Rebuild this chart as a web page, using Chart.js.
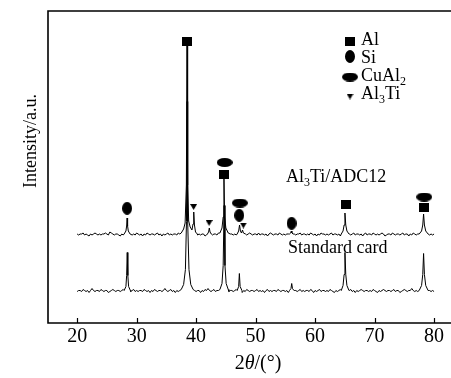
<!DOCTYPE html>
<html>
<head>
<meta charset="utf-8">
<script src="https://cdn.jsdelivr.net/npm/chart.js@4/dist/chart.umd.min.js"></script>
<style>
  html, body { margin: 0; padding: 0; background: #fff; }
  canvas { display: block; }
</style>
</head>
<body>
<canvas id="xrdChart" width="451" height="378"></canvas>
<script>
// x axis ticks (2-theta, degrees)
const angleTicks = [20, 30, 40, 50, 60, 70, 80];

// background readings, one every 0.25 deg from 20 to 80
const scanStart = 20;
const scanStep = 0.25;
const sampleNoise = [
  1, 0, 1, 1, 2, 0, 1, 0, -1, 1,
  0, 1, 2, 1, 0, 1, 0, 1, 1, 2,
  1, 0, 3, 2, 1, 0, 1, 1, 0, -1,
  1, 0, 1, 2, 0, 1, 1, 0, 1, 0,
  2, 1, 0, 1, -1, 1, 0, 2, 1, 0,
  1, 1, 0, 1, 2, 0, 1, -1, 1, 0,
  1, 2, 0, 1, 0, 1, 1, 0, 2, 1,
  0, 1, -1, 1, 0, 2, 1, 1, 0, 1,
  2, 0, 1, 0, 1, 1, -1, 0, 1, 2,
  1, 0, 1, 1, 0, 2, 1, 0, 1, -1,
  1, 0, 2, 1, 1, 0, 1, 0, 1, 2,
  0, 1, 1, -1, 0, 1, 2, 1, 0, 1,
  1, 0, 2, 0, 1, 1, 0, 1, -1, 1,
  2, 1, 0, 1, 1, 0, 2, 1, 0, 1,
  0, 1, 1, 2, 0, -1, 1, 0, 1, 1,
  2, 0, 1, 1, 0, 1, 0, 2, 1, 0,
  1, -1, 1, 0, 2, 1, 1, 0, 1, 0,
  1, 2, 0, 1, 1, 0, 1, -1, 0, 1,
  2, 1, 0, 1, 0, 1, 2, 0, 1, 1,
  0, 1, -1, 1, 2, 0, 1, 1, 0, 2,
  1, 0, 1, 0, 1, 2, 1, -1, 0, 1,
  1, 0, 2, 1, 0, 1, 1, 0, 1, 2,
  0, 1, 1, -1, 1, 0, 2, 1, 0, 1,
  1, 2, 0, 1, 0, 1, 1, 0, 1, 0,
  1
];
const cardNoise = [
  0, 1, 1, 0, 2, 1, 0, 1, -1, 1,
  3, 1, 0, 1, 1, 0, 2, 1, 0, 1,
  1, -1, 0, 1, 2, 1, 0, 1, 1, 0,
  1, 2, 0, 1, -1, 1, 0, 1, 2, 0,
  1, 0, 1, 1, 0, 2, 1, 0, 1, -1,
  1, 0, 2, 1, 0, 1, 1, 0, 1, 3,
  1, 0, 1, 2, 0, 1, -1, 1, 0, 1,
  2, 1, 0, 1, 1, 0, 1, 2, 0, 1,
  0, 1, 1, -1, 1, 0, 2, 1, 3, 1,
  0, 1, 2, 0, 1, 1, 0, -1, 1, 0,
  2, 1, 0, 1, 1, 0, 1, 2, 1, 0,
  1, -1, 1, 0, 2, 1, 0, 1, 1, 0,
  1, 2, 0, 1, 0, 1, -1, 1, 2, 0,
  1, 0, 1, 1, 0, 2, 1, 0, 1, 1,
  0, 1, -1, 1, 2, 0, 1, 1, 0, 1,
  2, 0, 1, 0, 1, 1, 0, 2, 1, -1,
  1, 0, 1, 2, 0, 1, 1, 0, 1, 0,
  2, 1, 0, -1, 1, 0, 1, 2, 1, 0,
  1, 1, 0, 1, 2, 0, 1, -1, 1, 0,
  1, 2, 1, 0, 1, 1, 0, 1, 0, 2,
  1, 0, -1, 1, 0, 1, 2, 1, 0, 1,
  1, 0, 1, 2, 0, 1, 1, -1, 0, 1,
  2, 1, 0, 1, 1, 3, 1, 0, 1, 0,
  1, 0, 2, 1, 0, 1, -1, 1, 0, 1,
  0
];

// diffraction peaks, [2theta, intensity above background]
const samplePeaks = [
  [[27.9, 1], [28.2, 4], [28.32, 9], [28.4, 17], [28.48, 9], [28.6, 4], [28.9, 1]],
  [[37.5, 2], [37.9, 6], [38.15, 12], [38.36, 50], [38.47, 190], [38.57, 50], [38.75, 14], [39.0, 8],
   [39.3, 5], [39.48, 11], [39.6, 23], [39.72, 10], [39.9, 3], [40.2, 1]],
  [[41.9, 1], [42.1, 3], [42.22, 7], [42.34, 3], [42.55, 1]],
  [[44.0, 2], [44.35, 7], [44.55, 18], [44.68, 57], [44.8, 18], [45.0, 7], [45.4, 2]],
  [[46.9, 1], [47.15, 4], [47.3, 10], [47.45, 4], [47.62, 2], [47.8, 5], [47.95, 2], [48.3, 1]],
  [[55.7, 1], [55.9, 2], [56.0, 4], [56.1, 2], [56.3, 1]],
  [[64.4, 1], [64.7, 4], [64.88, 10], [65.02, 22], [65.16, 10], [65.35, 4], [65.7, 1]],
  [[77.5, 1], [77.9, 4], [78.1, 10], [78.24, 21], [78.38, 10], [78.6, 4], [79.0, 1]]
];
const cardPeaks = [
  [[27.9, 1], [28.2, 5], [28.32, 16], [28.42, 39], [28.52, 16], [28.65, 5], [28.95, 1]],
  [[37.5, 2], [37.9, 7], [38.2, 22], [38.38, 70], [38.48, 190], [38.58, 70], [38.8, 22], [39.1, 7], [39.5, 2]],
  [[44.0, 2], [44.35, 8], [44.55, 26], [44.7, 86], [44.85, 26], [45.05, 8], [45.4, 2]],
  [[46.9, 1], [47.15, 5], [47.27, 18], [47.4, 5], [47.7, 1]],
  [[55.7, 1], [55.95, 3], [56.07, 8], [56.2, 3], [56.45, 1]],
  [[64.4, 1], [64.7, 6], [64.88, 17], [65.02, 39], [65.16, 17], [65.35, 6], [65.7, 1]],
  [[77.5, 1], [77.9, 6], [78.1, 17], [78.24, 38], [78.38, 17], [78.6, 6], [79.0, 1]]
];

// the two patterns are stacked
const sampleOffset = 88;
const cardOffset = 31.5;

// phase markers above the sample peaks
const phaseAngles = [28.4, 38.48, 39.58, 42.18, 44.72, 44.8, 47.25, 47.35, 47.94, 56.05, 65.2, 78.3, 78.35];
const phaseLevels = [114.7, 282, 116, 100, 149, 160.5, 107.7, 120, 97.5, 99.7, 118.3, 115.2, 126];
const phaseKinds = ['Si', 'Al', 'Al3Ti', 'Al3Ti', 'Al', 'CuAl2', 'Si', 'CuAl2', 'Al3Ti', 'Si', 'Al', 'Al', 'CuAl2'];

// legend and labels (plain text / subscript pieces)
const legendKinds = ['Al', 'Si', 'CuAl2', 'Al3Ti'];
const legendText = [['Al'], ['Si'], ['CuAl', '2'], ['Al', '3', 'Ti']];
const sampleLabel = ['Al', '3', 'Ti/ADC12'];
const cardLabel = ['Standard card'];

const serif = '"Liberation Serif", "Times New Roman", serif';

function buildTrace(noise, peaks, offset) {
  const pts = [];
  noise.forEach((v, i) => {
    const x = scanStart + i * scanStep;
    const inPeak = peaks.some(p => x >= p[0][0] && x <= p[p.length - 1][0]);
    if (!inPeak) pts.push({ x: x, y: v + offset });
  });
  peaks.forEach(p => p.forEach(([x, y]) => pts.push({ x: x, y: y + offset })));
  return pts.sort((a, b) => a.x - b.x);
}

function makeMark(w, h, draw) {
  const c = document.createElement('canvas');
  c.width = w;
  c.height = h;
  const g = c.getContext('2d');
  g.fillStyle = '#000';
  g.beginPath();
  draw(g, w, h);
  g.fill();
  return c;
}
const ellipse = (g, w, h) => g.ellipse(w / 2, h / 2, w / 2, h / 2, 0, 0, Math.PI * 2);
const marks = {
  Al: makeMark(10, 9, (g, w, h) => g.rect(0, 0, w, h)),
  Si: makeMark(10, 13, ellipse),
  CuAl2: makeMark(16, 9, ellipse),
  Al3Ti: makeMark(7, 6, (g, w, h) => { g.moveTo(0, 0); g.lineTo(w, 0); g.lineTo(w / 2, h); g.closePath(); })
};

function drawChem(ctx, parts, x, y) {
  let cx = x;
  parts.forEach((s, i) => {
    const sub = i % 2 === 1;
    ctx.font = (sub ? '12px ' : '18px ') + serif;
    ctx.fillText(s, cx, sub ? y + 4 : y);
    cx += ctx.measureText(s).width;
  });
}

const decorations = {
  id: 'decorations',
  afterDraw(chart) {
    const ctx = chart.ctx;
    const a = chart.chartArea;
    const xs = chart.scales.x;
    ctx.save();
    ctx.strokeStyle = '#000';
    ctx.fillStyle = '#000';

    // frame (right side is cut off in the original)
    ctx.lineWidth = 1.6;
    ctx.beginPath();
    ctx.moveTo(451, a.top);
    ctx.lineTo(a.left, a.top);
    ctx.lineTo(a.left, a.bottom);
    ctx.lineTo(451, a.bottom);
    ctx.stroke();

    // inward tick marks
    ctx.lineWidth = 1.2;
    xs.ticks.forEach(t => {
      const px = Math.round(xs.getPixelForValue(t.value)) + 0.5;
      ctx.beginPath();
      ctx.moveTo(px, a.bottom);
      ctx.lineTo(px, a.bottom - 5);
      ctx.stroke();
    });

    // legend
    ctx.textAlign = 'left';
    ctx.textBaseline = 'alphabetic';
    const rowY = [44.5, 62.5, 80.5, 98.5];
    const markY = [41.5, 56.5, 77, 96.5];
    legendKinds.forEach((k, i) => {
      const m = marks[k];
      ctx.drawImage(m, 350 - m.width / 2, markY[i] - m.height / 2);
      drawChem(ctx, legendText[i], 361, rowY[i]);
    });

    // pattern labels
    drawChem(ctx, sampleLabel, 286, 181.5);
    drawChem(ctx, cardLabel, 288, 253);

    // x title: 2θ/(°)
    const xt = [['2', ''], ['\u03b8', 'italic '], ['/(\u00b0)', '']];
    let w = 0;
    xt.forEach(([s, st]) => { ctx.font = st + '20px ' + serif; w += ctx.measureText(s).width; });
    let cx = 258 - w / 2;
    xt.forEach(([s, st]) => {
      ctx.font = st + '20px ' + serif;
      ctx.fillText(s, cx, 369);
      cx += ctx.measureText(s).width;
    });

    // y title
    ctx.translate(31, 141);
    ctx.rotate(-Math.PI / 2);
    ctx.textAlign = 'center';
    ctx.textBaseline = 'middle';
    ctx.font = '18px ' + serif;
    ctx.fillText('Intensity/a.u.', 0, 0);
    ctx.restore();
  }
};

const lineStyle = {
  borderColor: '#000',
  borderWidth: 1,
  pointRadius: 0,
  tension: 0,
  fill: false
};

new Chart(document.getElementById('xrdChart'), {
  type: 'scatter',
  data: {
    datasets: [
      Object.assign({ label: 'Al3Ti/ADC12', data: buildTrace(sampleNoise, samplePeaks, sampleOffset), showLine: true }, lineStyle),
      Object.assign({ label: 'Standard card', data: buildTrace(cardNoise, cardPeaks, cardOffset), showLine: true }, lineStyle),
      {
        label: 'phases',
        data: phaseAngles.map((a, i) => ({ x: a, y: phaseLevels[i] })),
        showLine: false,
        pointRadius: 5,
        pointStyle: ctx => marks[phaseKinds[ctx.dataIndex]]
      }
    ]
  },
  options: {
    responsive: false,
    animation: false,
    devicePixelRatio: 1,
    layout: { padding: { left: 48, top: 11, right: 0, bottom: 27 } },
    plugins: {
      legend: { display: false },
      tooltip: { enabled: false }
    },
    scales: {
      x: {
        type: 'linear',
        min: 15.1,
        max: 81.84,
        afterBuildTicks: scale => { scale.ticks = angleTicks.map(v => ({ value: v })); },
        grid: { display: false, drawTicks: false },
        border: { display: false },
        ticks: {
          color: '#000',
          padding: 2,
          font: { family: serif, size: 20 }
        }
      },
      y: {
        display: false,
        min: 0,
        max: 312
      }
    }
  },
  plugins: [decorations]
});
</script>
</body>
</html>
